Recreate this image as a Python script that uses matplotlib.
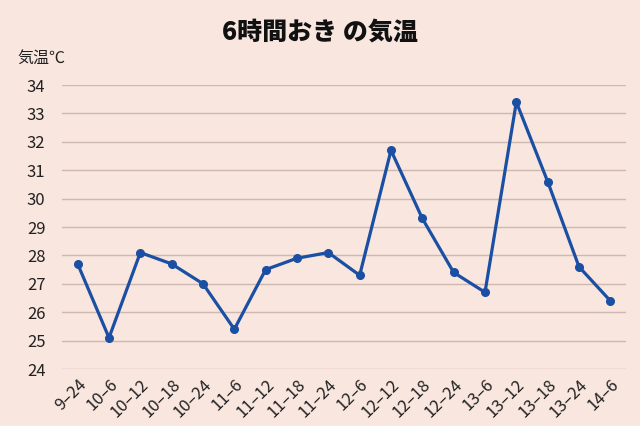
import matplotlib
matplotlib.use("Agg")
import matplotlib.pyplot as plt

plt.rcParams['font.family'] = ['Noto Sans CJK JP', 'DejaVu Sans']

# 時刻ラベルと気温
labels = ["9–24", "10–6", "10–12", "10–18", "10–24", "11–6", "11–12", "11–18", "11–24",
          "12–6", "12–12", "12–18", "12–24", "13–6", "13–12", "13–18", "13–24", "14–6"]
temps = [27.7, 25.1, 28.1, 27.7, 27.0, 25.4, 27.5, 27.9, 28.1,
         27.3, 31.7, 29.3, 27.4, 26.7, 33.4, 30.6, 27.6, 26.4]
yticks = list(range(24, 35))

bg = '#f8e6df'
fig = plt.figure(figsize=(6.4, 4.26), dpi=100, facecolor=bg)
ax = fig.add_axes([62/640, 1-369/426, (626-62)/640, (369-85)/426])
ax.set_facecolor(bg)

x = range(len(temps))
ax.plot(x, temps, color='#1a4fa3', linewidth=2.3, marker='o', markersize=5.5, zorder=3)

ax.set_xlim(-0.5, len(temps) - 0.5)
ax.set_ylim(24, 34)
ax.set_yticks(yticks)
ax.set_xticks(list(x))
ax.set_xticklabels(labels, rotation=45, ha='right', rotation_mode='anchor')
ax.tick_params(axis='both', length=0, labelsize=12, colors='#222222')
ax.tick_params(axis='x', pad=5)
ax.tick_params(axis='y', pad=12)
ax.grid(axis='y', color='#cdb9b0', linewidth=1)
ax.set_axisbelow(True)
for s in ax.spines.values():
    s.set_visible(False)

fig.text(0.5, 1-32/426, "6時間おき の気温", ha='center', va='center',
         fontsize=18, fontweight='heavy', color='#111111')
fig.text(17/640, 1-58/426, "気温℃", ha='left', va='center', fontsize=11.5, color='#222222')

fig.savefig("out.png", dpi=100, facecolor=bg)
